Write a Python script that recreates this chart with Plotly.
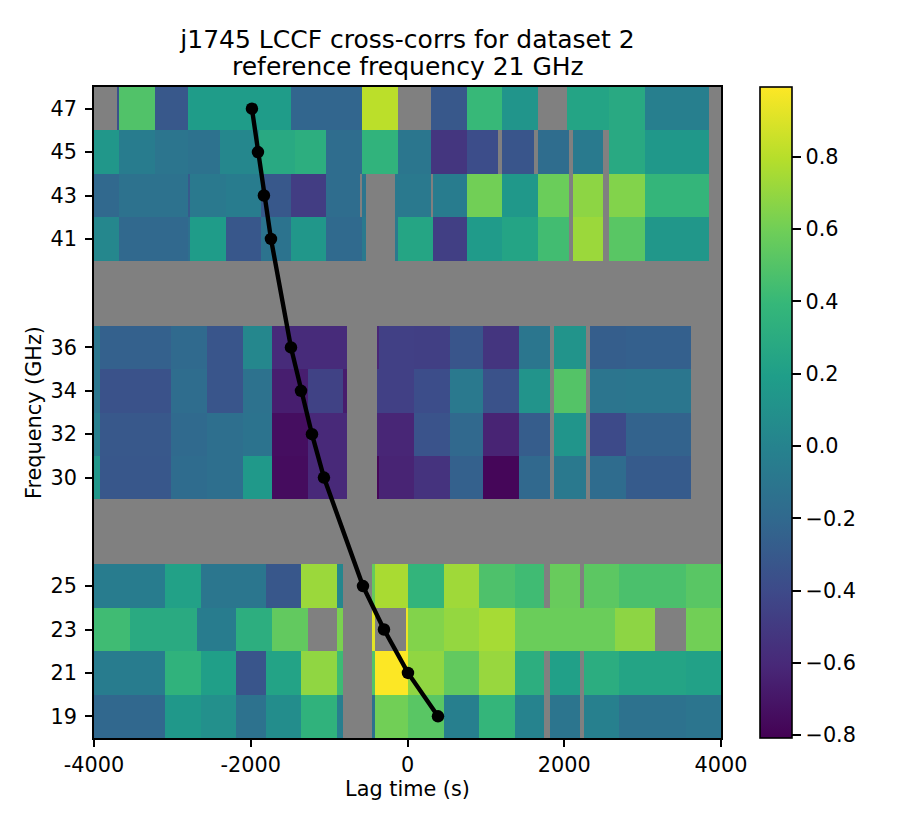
import plotly.graph_objects as go

N = None
title_line_1 = "j1745 LCCF cross-corrs for dataset 2"
title_line_2 = "reference frequency 21 GHz"
x_label = "Lag time (s)"
y_label = "Frequency (GHz)"
x_ticks = [-4000, -2000, 0, 2000, 4000]
x_tick_labels = ["-4000", "-2000", "0", "2000", "4000"]
freq_ticks = [19, 21, 23, 25, 30, 32, 34, 36, 41, 43, 45, 47]

edges_47 = [-4000, -3712, -3686, -3226, -2805, -2780, -1490, -585, -125, 296, 756, 1202, 1662, 2032, 2568, 3027, 3844, 4000]
values_47 = [N, -.35, .49, -.31, .2, .18, -.22, .81, N, -.31, .4, .13, N, .24, .28, -.03, N]
edges_45 = [-4000, -3686, -3226, -2805, -2397, -1899, -1440, -1044, -585, -125, 296, 756, 1151, 1202, 1611, 1662, 2057, 2108, 2491, 2568, 3027, 3844, 4000]
values_45 = [.14, -.05, -.11, -.13, .03, .28, .32, -.17, .36, -.1, -.52, -.38, N, -.33, N, -.17, N, -.07, N, .28, .15, N]
edges_43 = [-4000, -3686, -2805, -2780, -2320, -1873, -1490, -1044, -610, -585, -534, -163, 296, 322, 756, 1202, 1662, 2057, 2108, 2491, 2568, 3027, 3844, 4000]
values_43 = [-.2, -.13, -.3, -.08, -.05, -.31, -.48, -.17, N, -.11, N, -.08, N, -.05, .6, .15, .58, N, .68, N, .65, .38, N]
edges_41 = [-4000, -3686, -2805, -2780, -2320, -1873, -1490, -1044, -585, -534, -163, -125, 322, 756, 1202, 1662, 2057, 2108, 2491, 2568, 3027, 3844, 4000]
values_41 = [.03, -.2, -.15, .18, -.32, -.12, .14, -.19, -.08, N, -.08, .25, -.47, .17, .24, .44, N, .72, N, .52, .14, N]

edges_36 = [-4000, -3928, -3022, -2563, -2103, -1733, -776, -393, -367, 79, 538, 960, 1419, 1815, 1874, 2274, 2325, 2785, 3614, 4000]
values_36 = [-.1, -.25, -.19, -.33, .03, -.59, N, -.62, -.46, -.47, -.33, -.53, -.1, N, .12, N, -.27, -.26, N]
edges_34 = [-4000, -3928, -3022, -2563, -2103, -1733, -1274, -827, -776, -393, 79, 538, 960, 1419, 1815, 1874, 2274, 2325, 2785, 3614, 4000]
values_34 = [-.1, -.35, -.17, -.33, -.13, -.66, -.45, -.67, N, -.46, -.38, -.08, -.35, .12, N, .5, N, -.11, -.1, N]
edges_32 = [-4000, -3928, -3022, -2563, -2103, -1733, -1274, -776, -393, 79, 538, 960, 1419, 1815, 1874, 2274, 2325, 2785, 3614, 4000]
values_32 = [-.03, -.31, -.19, -.15, -.12, -.74, -.6, N, -.62, -.34, -.2, -.63, -.28, N, .13, N, -.4, -.24, N]
edges_30 = [-4000, -3928, -3022, -2563, -2103, -1733, -1274, -776, -393, -367, 79, 538, 960, 1419, 1815, 1874, 2274, 2325, 2785, 3614, 4000]
values_30 = [.14, -.32, -.18, -.15, .16, -.75, -.6, N, -.78, -.63, -.54, -.25, -.78, -.2, N, -.08, N, -.18, -.29, N]

edges_25 = [-4000, -3099, -2640, -1810, -1363, -904, -827, -457, -419, 2, 462, 909, 1368, 1738, 1815, 2198, 2249, 2695, 3551, 4000]
values_25 = [-.05, .22, -.1, -.32, .72, .02, N, .56, .76, .37, .73, .48, .43, N, .57, N, .53, .47, .52]
edges_23 = [-4000, -3546, -2690, -2193, -1733, -1274, -904, -827, -457, -419, -23, 2, 462, 909, 1368, 2645, 3155, 3551, 4000]
values_23 = [.43, .29, -.05, .32, .55, N, .63, N, .92, N, .95, .65, .7, .75, .58, .68, N, .6]
edges_21 = [-4000, -3099, -2640, -2193, -1810, -1363, -904, -827, -457, -419, 2, 462, 909, 1368, 1738, 1815, 2198, 2249, 2695, 3551, 4000]
values_21 = [-.05, .35, .2, -.33, .23, .69, .42, N, .5, .99, .69, .55, .71, .32, N, .21, N, .31, .24, .22]
edges_19 = [-4000, -3099, -2640, -2193, -1810, -1363, -904, -827, -457, -419, 2, 462, 909, 1368, 1738, 1815, 2198, 2249, 2695, 3551, 4000]
values_19 = [-.21, .15, .09, -.13, .07, .35, -.04, N, -.14, .6, .52, -.03, .38, 0, N, -.11, N, -.02, -.13, -.11]

# Frequency bands, bottom to top; a None row is an empty band between the groups.
band_edges = [18, 20, 22, 24, 26, 29, 31, 33, 35, 37, 40, 42, 44, 46, 48]
band_edge_lists = [edges_19, edges_21, edges_23, edges_25, None, edges_30, edges_32, edges_34, edges_36, None,
                   edges_41, edges_43, edges_45, edges_47]
band_value_lists = [values_19, values_21, values_23, values_25, None, values_30, values_32, values_34, values_36, None,
                    values_41, values_43, values_45, values_47]

delay_freqs = [47, 45, 43, 41, 36, 34, 32, 30, 25, 23, 21, 19]
delay_lags = [-1985, -1908, -1832, -1742, -1487, -1359, -1219, -1066, -568, -300, 6, 389]

# Every row has its own lag bins: merge them into one grid so the cells share edges.
all_edges = sorted({x for e in band_edge_lists if e for x in e})
grid = []
for e, v in zip(band_edge_lists, band_value_lists):
    if e is None:
        grid.append([None] * (len(all_edges) - 1))
        continue
    row = []
    for left in all_edges[:-1]:
        i = max(k for k in range(len(v)) if e[k] <= left)
        row.append(v[i])
    grid.append(row)

FONT = "DejaVu Sans"
fig = go.Figure()
fig.add_trace(go.Heatmap(x=all_edges, y=band_edges, z=grid, coloraxis="coloraxis", hoverongaps=False))
fig.add_trace(go.Scatter(x=delay_lags, y=delay_freqs, mode="lines+markers",
                         line=dict(color="black", width=4.4),
                         marker=dict(color="black", size=12.5), showlegend=False))

axis_style = dict(showline=True, mirror=True, linecolor="black", linewidth=1.6,
                  ticks="outside", ticklen=7, tickwidth=1.6, tickcolor="black",
                  showgrid=False, zeroline=False)
fig.update_layout(
    width=900, height=825,
    margin=dict(l=86, r=187, t=79, b=95),
    paper_bgcolor="white", plot_bgcolor="#808080",
    font=dict(family=FONT, size=20.8, color="black"),
    title=dict(text=title_line_1, x=399.5 / 900, xanchor="center", xref="container",
               y=1 - 31 / 825, yanchor="middle", yref="container", font=dict(size=25, family=FONT)),
    annotations=[dict(text=title_line_2, xref="paper", yref="paper", x=0.5, y=1,
                      xanchor="center", yanchor="middle", yshift=21, showarrow=False,
                      font=dict(size=25, family=FONT))],
    showlegend=False,
    coloraxis=dict(
        colorscale="Viridis", cmin=-0.808, cmax=0.993,
        colorbar=dict(x=1.062, xanchor="left", xpad=0, y=0, yanchor="bottom", ypad=0,
                      len=1, lenmode="fraction", thickness=32, thicknessmode="pixels",
                      outlinecolor="black", outlinewidth=1.6,
                      ticks="outside", ticklen=9, tickwidth=1.6, tickcolor="black",
                      tick0=-0.8, dtick=0.2, tickformat=".1f",
                      tickfont=dict(size=20.8, family=FONT)),
    ),
    xaxis=dict(range=[-4000, 4000], tickvals=x_ticks, ticktext=x_tick_labels,
               title=dict(text=x_label, standoff=6, font=dict(size=20.8)), **axis_style),
    yaxis=dict(range=[18, 48], tickvals=freq_ticks, ticktext=[str(t) for t in freq_ticks],
               ticklabelstandoff=4,
               title=dict(text=y_label, standoff=3, font=dict(size=20.8)), **axis_style),
)
fig.write_html("out.html")
